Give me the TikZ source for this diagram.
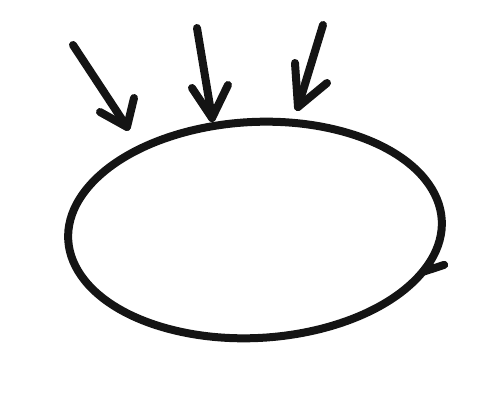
\documentclass[tikz,border=0pt]{standalone}
\begin{document}
\begin{tikzpicture}[x=1pt, y=1pt, pen/.style={draw=black!92, line width=8pt, line cap=round, line join=round}]
\useasboundingbox (0,0) rectangle (480,405);
\coordinate (c) at (255,175);
\coordinate (t1) at (127,278);
\coordinate (t2) at (212,287);
\coordinate (t3) at (298,298);
\coordinate (s1) at (73,360);
\coordinate (s2) at (197,377);
\coordinate (s3) at (323,380);
% the egg
\draw [pen, rotate around={3:(c)}] (c) ++(-28:187 and 108) arc [start angle=-28, end angle=332, x radius=187, y radius=108] -- ++(22,6);
% three arrows falling on it
\draw [pen] (s1) -- (t1);
\draw [pen] (100,293) -- (t1) -- (134,307);
\draw [pen] (s2) -- (t2);
\draw [pen] (192,317) -- (t2) -- (228,320);
\draw [pen] (s3) -- (t3);
\draw [pen] (295,342) -- (t3) -- (327,322);
\end{tikzpicture}
\end{document}
